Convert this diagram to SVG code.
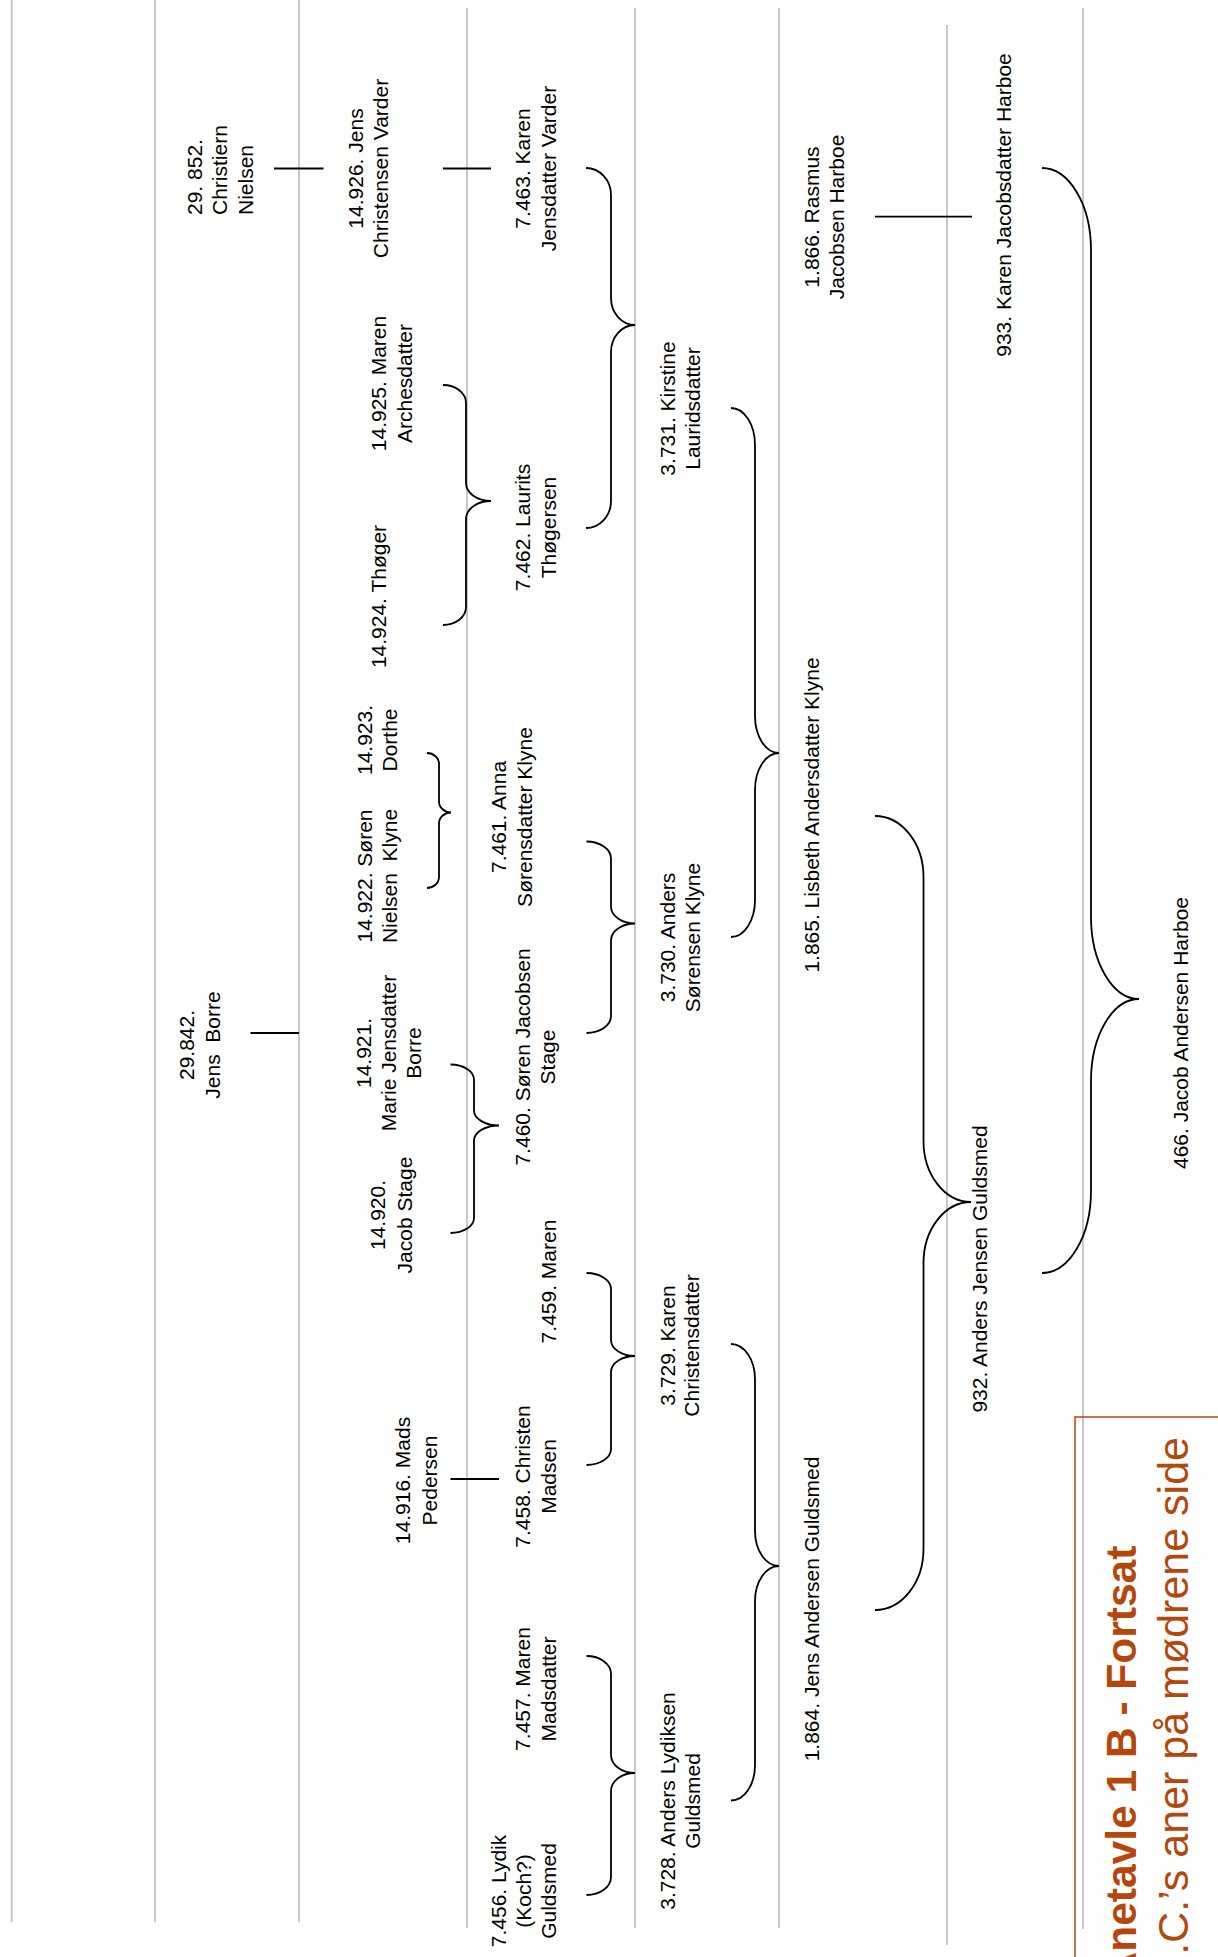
<svg xmlns="http://www.w3.org/2000/svg" width="1218" height="1957" viewBox="0 0 1218 1957">
<style>
.g{stroke:#c3c3c3;stroke-width:1.8;fill:none}
.c{stroke:#000;stroke-width:1.8;fill:none}
.t{font-family:"Liberation Sans",Arial,sans-serif;font-size:21px;fill:#000;text-anchor:middle}
.s{text-anchor:start}
.ttl{font-family:"Liberation Sans",Arial,sans-serif;fill:#b5470b;text-anchor:end}
</style>
<rect width="1218" height="1957" fill="#fff"/>
<g id="generation-lines">
<line class="g" x1="11.6" y1="0" x2="11.6" y2="1922"/>
<line class="g" x1="155" y1="0" x2="155" y2="1922"/>
<line class="g" x1="299" y1="0" x2="299" y2="1922"/>
<line class="g" x1="467" y1="8" x2="467" y2="1928"/>
<line class="g" x1="635" y1="8" x2="635" y2="1928"/>
<line class="g" x1="779" y1="8" x2="779" y2="1928"/>
<line class="g" x1="947" y1="25" x2="947" y2="1945"/>
<line class="g" x1="1083" y1="8" x2="1083" y2="1929"/>
</g>
<g id="connectors">
<line class="c" x1="274" y1="168.5" x2="323.5" y2="168.5"/>
<line class="c" x1="443" y1="168.5" x2="491" y2="168.5"/>
<line class="c" x1="250.5" y1="1033" x2="299" y2="1033"/>
<line class="c" x1="450.5" y1="1479" x2="499" y2="1479"/>
<line class="c" x1="875" y1="216.7" x2="972" y2="216.7"/>
<path class="c" d="M443,385 A23,18 0 0 1 466,403 V483 A25,18 0 0 0 491,501 A25,18 0 0 0 466,519 V607 A23,18 0 0 1 443,625"/>
<path class="c" d="M586,168 A25,27 0 0 1 611,195 V298 A24,27 0 0 0 635,325 A24,27 0 0 0 611,352 V501 A25,27 0 0 1 586,528"/>
<path class="c" d="M427,753 A12,11 0 0 1 439,764 V801.5 A12,11 0 0 0 451,812.5 A12,11 0 0 0 439,823.5 V877 A12,11 0 0 1 427,888"/>
<path class="c" d="M450.5,1064.5 A23.5,15 0 0 1 474,1079.5 V1110.5 A25,15 0 0 0 499,1125.5 A25,15 0 0 0 474,1140.5 V1218 A23.5,15 0 0 1 450.5,1233"/>
<path class="c" d="M586.5,841.5 A24.5,17 0 0 1 611,858.5 V906.5 A24,17 0 0 0 635,923.5 A24,17 0 0 0 611,940.5 V1016 A24.5,17 0 0 1 586.5,1033"/>
<path class="c" d="M731,408 A24,37 0 0 1 755,445 V716 A24,37 0 0 0 779,753 A24,37 0 0 0 755,790 V900 A24,37 0 0 1 731,937"/>
<path class="c" d="M586.5,1273 A24.5,16 0 0 1 611,1289 V1340 A24,16 0 0 0 635,1356 A24,16 0 0 0 611,1372 V1449 A24.5,16 0 0 1 586.5,1465"/>
<path class="c" d="M586.5,1656 A24.5,18 0 0 1 611,1674 V1755 A24,18 0 0 0 635,1773 A24,18 0 0 0 611,1791 V1877 A24.5,18 0 0 1 586.5,1895"/>
<path class="c" d="M731,1344 A24,35 0 0 1 755,1379 V1531 A24,35 0 0 0 779,1566 A24,35 0 0 0 755,1601 V1765.5 A24,35 0 0 1 731,1800.5"/>
<path class="c" d="M875,816 A48.5,61 0 0 1 923.5,877 V1141 A47.5,61 0 0 0 971,1202 A47.5,61 0 0 0 923.5,1263 V1549 A48.5,61 0 0 1 875,1610"/>
<path class="c" d="M1042,168 A49,82 0 0 1 1091,250 V917 A48,82 0 0 0 1139,999 A48,82 0 0 0 1091,1081 V1191 A49,82 0 0 1 1042,1273"/>
</g>
<g id="n29852"><text class="t s" transform="rotate(-90)"><tspan x="-215" y="201.7">29. 852.</tspan><tspan x="-215" y="227.3">Christiern</tspan><tspan x="-215" y="252.7">Nielsen</tspan></text></g>
<g id="n29842"><text class="t" transform="rotate(-90)" xml:space="preserve"><tspan x="-1045" y="194">29.842.</tspan><tspan x="-1045" y="219.5">Jens  Borre</tspan></text></g>
<g id="n14926"><text class="t" transform="rotate(-90)"><tspan x="-168.5" y="363">14.926. Jens</tspan><tspan x="-168.5" y="388.3">Christensen Varder</tspan></text></g>
<g id="n14925"><text class="t" transform="rotate(-90)"><tspan x="-383.5" y="386.4">14.925. Maren</tspan><tspan x="-383.5" y="411.7">Archesdatter</tspan></text></g>
<g id="n14924"><text class="t" transform="rotate(-90)"><tspan x="-596.5" y="386.4">14.924. Thøger</tspan></text></g>
<g id="n14923"><text class="t" transform="rotate(-90)"><tspan x="-740" y="371.7">14.923.</tspan><tspan x="-740" y="396.7">Dorthe</tspan></text></g>
<g id="n14922"><text class="t" transform="rotate(-90)" xml:space="preserve"><tspan x="-876" y="371.7">14.922. Søren</tspan><tspan x="-876" y="396.7">Nielsen  Klyne</tspan></text></g>
<g id="n14921"><text class="t" transform="rotate(-90)"><tspan x="-1053" y="371">14.921.</tspan><tspan x="-1053" y="396.2">Marie Jensdatter</tspan><tspan x="-1053" y="421.4">Borre</tspan></text></g>
<g id="n14920"><text class="t" transform="rotate(-90)"><tspan x="-1215" y="385">14.920.</tspan><tspan x="-1215" y="411.5">Jacob Stage</tspan></text></g>
<g id="n14916"><text class="t" transform="rotate(-90)"><tspan x="-1480.5" y="409.7">14.916. Mads</tspan><tspan x="-1480.5" y="437">Pedersen</tspan></text></g>
<g id="n7463"><text class="t" transform="rotate(-90)"><tspan x="-168.5" y="530">7.463. Karen</tspan><tspan x="-168.5" y="556">Jensdatter Varder</tspan></text></g>
<g id="n7462"><text class="t" transform="rotate(-90)"><tspan x="-527.5" y="530">7.462. Laurits</tspan><tspan x="-527.5" y="556">Thøgersen</tspan></text></g>
<g id="n7461"><text class="t" transform="rotate(-90)"><tspan x="-817" y="506">7.461. Anna</tspan><tspan x="-817" y="532">Sørensdatter Klyne</tspan></text></g>
<g id="n7460"><text class="t" transform="rotate(-90)"><tspan x="-1057" y="530">7.460. Søren Jacobsen</tspan><tspan x="-1057" y="555">Stage</tspan></text></g>
<g id="n7459"><text class="t" transform="rotate(-90)"><tspan x="-1281.5" y="556">7.459. Maren</tspan></text></g>
<g id="n7458"><text class="t" transform="rotate(-90)"><tspan x="-1476.5" y="530">7.458. Christen</tspan><tspan x="-1476.5" y="556">Madsen</tspan></text></g>
<g id="n7457"><text class="t" transform="rotate(-90)"><tspan x="-1689" y="530">7.457. Maren</tspan><tspan x="-1689" y="556">Madsdatter</tspan></text></g>
<g id="n7456"><text class="t" transform="rotate(-90)"><tspan x="-1891" y="506">7.456. Lydik</tspan><tspan x="-1891" y="531">(Koch?)</tspan><tspan x="-1891" y="556">Guldsmed</tspan></text></g>
<g id="n3731"><text class="t" transform="rotate(-90)"><tspan x="-408.5" y="675">3.731. Kirstine</tspan><tspan x="-408.5" y="700">Lauridsdatter</tspan></text></g>
<g id="n3730"><text class="t" transform="rotate(-90)"><tspan x="-937.5" y="675">3.730. Anders</tspan><tspan x="-937.5" y="700">Sørensen Klyne</tspan></text></g>
<g id="n3729"><text class="t" transform="rotate(-90)"><tspan x="-1345.5" y="675">3.729. Karen</tspan><tspan x="-1345.5" y="698.5">Christensdatter</tspan></text></g>
<g id="n3728"><text class="t" transform="rotate(-90)"><tspan x="-1801" y="675">3.728. Anders Lydiksen</tspan><tspan x="-1801" y="700">Guldsmed</tspan></text></g>
<g id="n1866"><text class="t" transform="rotate(-90)"><tspan x="-217" y="819">1.866. Rasmus</tspan><tspan x="-217" y="844">Jacobsen Harboe</tspan></text></g>
<g id="n1865"><text class="t" transform="rotate(-90)"><tspan x="-815" y="819">1.865. Lisbeth Andersdatter Klyne</tspan></text></g>
<g id="n1864"><text class="t" transform="rotate(-90)"><tspan x="-1609" y="819">1.864. Jens Andersen Guldsmed</tspan></text></g>
<g id="n933"><text class="t" transform="rotate(-90)"><tspan x="-205" y="1011">933. Karen Jacobsdatter Harboe</tspan></text></g>
<g id="n932"><text class="t" transform="rotate(-90)"><tspan x="-1269" y="986.7">932. Anders Jensen Guldsmed</tspan></text></g>
<g id="n466"><text class="t" transform="rotate(-90)"><tspan x="-1033" y="1187.6">466. Jacob Andersen Harboe</tspan></text></g>
<g id="title">
<rect x="1075" y="1417" width="200" height="600" fill="none" stroke="#b5470b" stroke-width="1.5"/>
<text class="ttl" transform="rotate(-90)" font-weight="bold" font-size="42.5"><tspan x="-1545.6" y="1136">Anetavle 1 B - Fortsat</tspan></text>
<text class="ttl" transform="rotate(-90)" font-size="43"><tspan x="-1437" y="1188">J.C.’s aner på mødrene side</tspan></text>
</g>
</svg>
